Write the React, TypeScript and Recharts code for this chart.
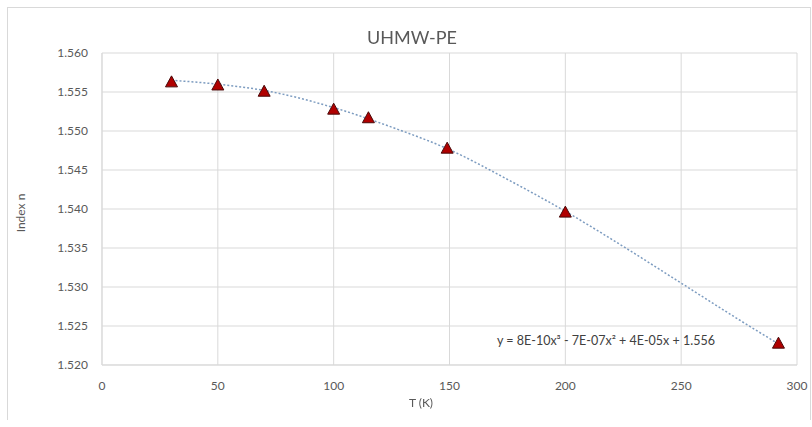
import React from "react";
import {
  ComposedChart,
  Scatter,
  Line,
  XAxis,
  YAxis,
  CartesianGrid,
} from "recharts";

const temperatures = [30, 50, 70, 100, 115, 149, 200, 292];
const indexValues = [1.5563, 1.5559, 1.5551, 1.5528, 1.5517, 1.5478, 1.5396, 1.5228];

const trendT = [30, 50, 70, 100, 125, 150, 175, 200, 225, 250, 275, 292];
const trendN = [1.5565, 1.556, 1.5552, 1.553, 1.5505, 1.5476, 1.5438, 1.5397, 1.5352, 1.5305, 1.5258, 1.5227];

const xTicks = [0, 50, 100, 150, 200, 250, 300];
const yTicks = [1.52, 1.525, 1.53, 1.535, 1.54, 1.545, 1.55, 1.555, 1.56];

const titleText = "UHMW-PE";
const xLabel = "T (K)";
const yLabel = "Index n";
const equation = "y = 8E-10x³ - 7E-07x² + 4E-05x + 1.556";

const points = temperatures.map((t, i) => ({ T: t, n: indexValues[i] }));
const trend = trendT.map((t, i) => ({ T: t, trend: trendN[i] }));

const FONT = "Lato, 'Open Sans', sans-serif";

const Triangle = (props: any) => {
  const { cx, cy } = props;
  if (cx == null || cy == null) return null;
  const s = 6;
  return (
    <polygon
      points={`${cx},${cy - s} ${cx - s},${cy + s - 1} ${cx + s},${cy + s - 1}`}
      fill="#B00000"
      stroke="#4a0a0a"
      strokeWidth={1}
    />
  );
};

export default function App() {
  return (
    <div
      style={{
        position: "fixed",
        left: 7,
        top: 7,
        width: 802,
        height: 412,
        borderTop: "1px solid #d9d9d9",
        borderLeft: "1px solid #d9d9d9",
        borderRight: "1px solid #d9d9d9",
        background: "#fff",
        fontFamily: FONT,
      }}
    >
      <ComposedChart
        width={802}
        height={412}
        margin={{ top: 45, right: 13, bottom: 25, left: 14 }}
        style={{ overflow: "visible" }}
      >
        <CartesianGrid stroke="#d9d9d9" strokeWidth={1} />
        <XAxis
          dataKey="T"
          type="number"
          domain={[0, 300]}
          ticks={xTicks}
          allowDuplicatedCategory={false}
          axisLine={{ stroke: "#d9d9d9" }}
          tickLine={false}
          tickMargin={10}
          height={30}
          tick={{ fill: "#595959", fontSize: 12, fontFamily: FONT }}
        />
        <YAxis
          type="number"
          domain={[1.52, 1.56]}
          ticks={yTicks}
          width={80}
          axisLine={{ stroke: "#d9d9d9" }}
          tickLine={false}
          tickMargin={8}
          tickFormatter={(v: number) => v.toFixed(3)}
          tick={{ fill: "#595959", fontSize: 12, fontFamily: FONT }}
        />
        <Line
          data={trend}
          dataKey="trend"
          type="monotone"
          stroke="#7d9cc0"
          strokeWidth={1.5}
          strokeDasharray="2 2"
          dot={false}
          activeDot={false}
          isAnimationActive={false}
        />
        <Scatter
          data={points}
          dataKey="n"
          shape={Triangle}
          isAnimationActive={false}
        />
      </ComposedChart>
      <div
        style={{
          position: "absolute",
          left: 0,
          width: 808,
          top: 18,
          textAlign: "center",
          fontSize: 18,
          color: "#595959",
        }}
      >
        {titleText}
      </div>
      <div
        style={{
          position: "absolute",
          left: 0,
          width: 826,
          top: 387,
          textAlign: "center",
          fontSize: 12,
          color: "#595959",
        }}
      >
        {xLabel}
      </div>
      <div
        style={{
          position: "absolute",
          left: 12,
          top: 205,
          transform: "translate(-50%, -50%) rotate(-90deg)",
          fontSize: 12,
          color: "#595959",
          whiteSpace: "nowrap",
        }}
      >
        {yLabel}
      </div>
      <div
        style={{
          position: "absolute",
          left: 489,
          top: 325,
          fontSize: 12.5,
          color: "#404040",
          whiteSpace: "nowrap",
        }}
      >
        {equation}
      </div>
    </div>
  );
}
